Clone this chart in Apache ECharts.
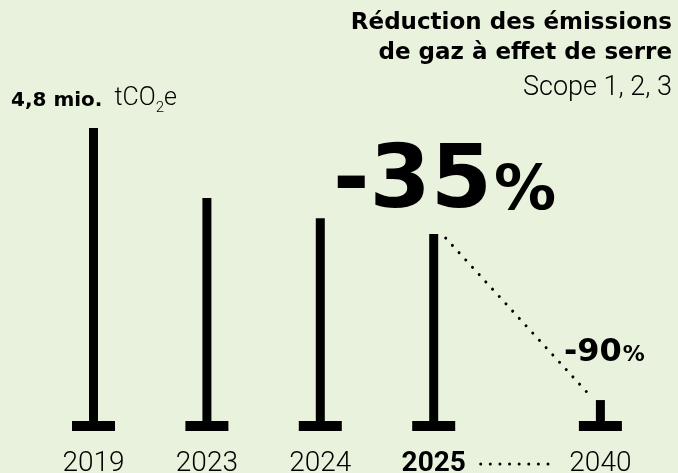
<!DOCTYPE html>
<html>
<head>
<meta charset="utf-8">
<script src="https://cdn.jsdelivr.net/npm/echarts@6/dist/echarts.min.js"></script>
<style>
  html, body { margin: 0; background: #e9f2dd; }
  #chart { width: 678px; height: 473px; }
</style>
</head>
<body>
<div id="chart"></div>
<script>
// emissions in mio. tCO2e, scope 1, 2, 3
const years = ['2019', '2023', '2024', '2025', '2040'];
const emissions = [4.8, 3.69, 3.37, 3.12, 0.49];
const isTarget = [false, false, false, false, true];
const highlightYear = '2025';
// 2040 sits further to the right than a regular step
const slots = [0, 1, 2, 3, 4.47];

const titleLines = ['Réduction des émissions', 'de gaz à effet de serre'];
const subtitle = 'Scope 1, 2, 3';
const startValue = '4,8 mio.';
const reduction2025 = '-35';
const reduction2040 = '-90';

const BOLD = '"DejaVu Sans", sans-serif';
const LIGHT = 'Roboto, sans-serif';
const INK = '#000';

const chart = echarts.init(document.getElementById('chart'));

const ctx = document.createElement('canvas').getContext('2d');
function textWidth(str, size, weight, family) {
  ctx.font = weight + ' ' + size + 'px ' + family;
  return ctx.measureText(str).width;
}

// text pieces set one after another on the same baseline
function textRun(x, baseline, runs) {
  const out = [];
  runs.forEach((r) => {
    x += r.gap || 0;
    out.push({
      type: 'text',
      x: x,
      y: baseline - 0.3 * r.size + (r.dy || 0),
      style: {
        text: r.text,
        fontSize: r.size,
        fontWeight: r.weight,
        fontFamily: r.family,
        fill: INK,
        align: 'left',
        verticalAlign: 'middle'
      }
    });
    x += textWidth(r.text, r.size, r.weight, r.family);
  });
  return out;
}

function rightText(text, baseline, size, weight, family) {
  return {
    type: 'text',
    x: 672,
    y: baseline - 0.3 * size,
    style: { text, fontSize: size, fontWeight: weight, fontFamily: family, fill: INK, align: 'right', verticalAlign: 'middle' }
  };
}

function renderMark(params, api) {
  const i = params.dataIndex;
  const top = api.coord([api.value(0), api.value(1)]);
  const base = api.coord([api.value(0), 0]);
  const children = [
    { type: 'rect', shape: { x: top[0] - 4.5, y: top[1], width: 9, height: base[1] - top[1] }, style: { fill: INK } },
    { type: 'rect', shape: { x: base[0] - 21.5, y: base[1] - 10, width: 43, height: 10 }, style: { fill: INK } },
    {
      type: 'text',
      x: base[0],
      y: base[1] + 33,
      style: {
        text: years[i],
        fontSize: 28,
        fontWeight: years[i] === highlightYear ? 700 : 300,
        fontFamily: LIGHT,
        fill: INK,
        align: 'center',
        verticalAlign: 'middle'
      }
    }
  ];
  if (isTarget[i]) {
    const pTop = api.coord([slots[i - 1], emissions[i - 1]]);
    const pBase = api.coord([slots[i - 1], 0]);
    children.push({
      type: 'line',
      shape: { x1: pTop[0] + 12, y1: pTop[1] + 4, x2: top[0] - 9, y2: top[1] - 3 },
      style: { stroke: INK, lineWidth: 3, lineCap: 'round', lineDash: [0.01, 9.9] }
    });
    children.push({
      type: 'line',
      shape: { x1: pBase[0] + 47, y1: base[1] + 33, x2: base[0] - 43, y2: base[1] + 33 },
      style: { stroke: INK, lineWidth: 3, lineCap: 'round', lineDash: [0.01, 9.6] }
    });
  }
  return { type: 'group', children };
}

chart.setOption({
  backgroundColor: '#e9f2dd',
  animation: false,
  grid: { left: 36.8, right: 17.5, top: 52.25, bottom: 42 },
  xAxis: { type: 'value', min: -0.5, max: 5, show: false },
  yAxis: { type: 'value', min: 0, max: 6, show: false },
  series: [
    {
      type: 'custom',
      clip: false,
      renderItem: renderMark,
      encode: { x: 0, y: 1 },
      data: years.map((y, i) => [slots[i], emissions[i]])
    }
  ],
  graphic: [
    rightText(titleLines[0], 30, 23, 700, BOLD),
    rightText(titleLines[1], 60, 23, 700, BOLD),
    rightText(subtitle, 96, 27, 300, LIGHT),
    ...textRun(11, 106.7, [
      { text: startValue, size: 20, weight: 700, family: BOLD },
      { text: 'tCO', size: 25, weight: 300, family: LIGHT, gap: 12 },
      { text: '2', size: 15, weight: 300, family: LIGHT, dy: 6 },
      { text: 'e', size: 25, weight: 300, family: LIGHT }
    ]),
    ...textRun(333, 211, [
      { text: reduction2025, size: 88, weight: 700, family: BOLD },
      { text: '%', size: 62, weight: 700, family: BOLD, gap: 2 }
    ]),
    ...textRun(564, 362, [
      { text: reduction2040, size: 32, weight: 700, family: BOLD },
      { text: '%', size: 22, weight: 700, family: BOLD, gap: 1 }
    ])
  ]
});
</script>
</body>
</html>
